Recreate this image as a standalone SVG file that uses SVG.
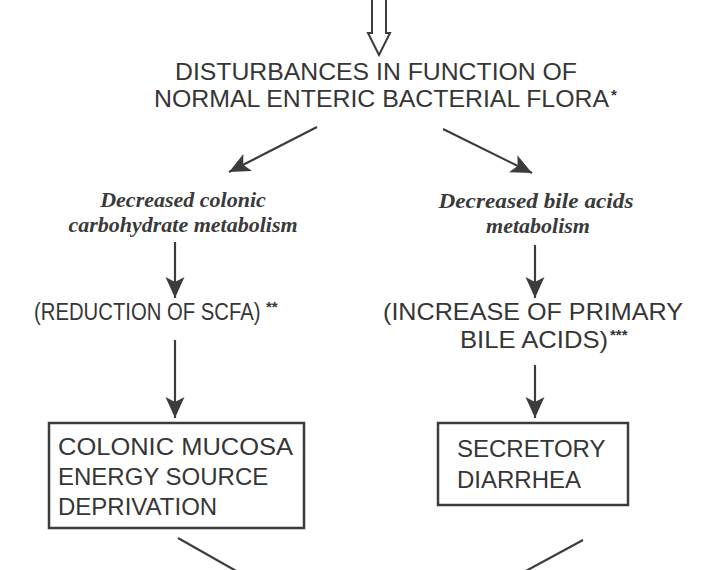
<svg xmlns="http://www.w3.org/2000/svg" width="708" height="570" viewBox="0 0 708 570">
<defs>
<marker id="ah" markerUnits="userSpaceOnUse" markerWidth="22" markerHeight="20" refX="21" refY="10" orient="auto">
<path d="M0,0.5 L21,10 L0,19.5 L5,10 z" fill="#3c3c3c"/>
</marker>
<style>
.cap{font-family:"Liberation Sans",Arial,sans-serif;font-size:24px;fill:#363636}
.it{font-family:"Liberation Serif","Times New Roman",serif;font-style:italic;font-weight:bold;font-size:22px;fill:#3a3a3a}
.sup{font-family:"Liberation Sans",Arial,sans-serif;font-size:15px;font-weight:bold;fill:#363636}
.ln{stroke:#3c3c3c;stroke-width:2.2;fill:none}
.box{fill:none;stroke:#3c3c3c;stroke-width:2.5}
</style>
</defs>
<rect width="708" height="570" fill="#ffffff"/>
<g id="connectors">
<polygon points="372,-3 386,-3 386,33 390,33 379,55 368,33 372,33" fill="#ffffff" stroke="#3c3c3c" stroke-width="2"/>
<line class="ln" x1="317" y1="127" x2="229" y2="172" marker-end="url(#ah)"/>
<line class="ln" x1="443" y1="129" x2="532" y2="173" marker-end="url(#ah)"/>
<line class="ln" x1="175" y1="242" x2="175" y2="298" marker-end="url(#ah)"/>
<line class="ln" x1="175" y1="340" x2="175" y2="418" marker-end="url(#ah)"/>
<line class="ln" x1="535" y1="245" x2="535" y2="298" marker-end="url(#ah)"/>
<line class="ln" x1="535" y1="365" x2="535" y2="418" marker-end="url(#ah)"/>
<line class="ln" x1="178" y1="538" x2="238" y2="572"/>
<line class="ln" x1="583" y1="540" x2="524" y2="572"/>
</g>
<g id="n-disturbances">
<text class="cap" x="175" y="80" textLength="402" lengthAdjust="spacingAndGlyphs">DISTURBANCES IN FUNCTION OF</text>
<text class="cap" x="154" y="107" textLength="455" lengthAdjust="spacingAndGlyphs">NORMAL ENTERIC BACTERIAL FLORA</text>
<text class="sup" x="611" y="100">*</text>
</g>
<g id="n-carbohydrate">
<text class="it" x="183" y="207" text-anchor="middle">Decreased colonic</text>
<text class="it" x="183" y="232" text-anchor="middle">carbohydrate metabolism</text>
</g>
<g id="n-bile">
<text class="it" x="536" y="208" text-anchor="middle" textLength="195" lengthAdjust="spacingAndGlyphs">Decreased bile acids</text>
<text class="it" x="538" y="233" text-anchor="middle">metabolism</text>
</g>
<g id="n-scfa">
<text class="cap" transform="translate(34,320) scale(1,1.15)" x="0" y="0" style="font-size:20.3px">(REDUCTION OF SCFA)</text>
<text class="sup" x="266" y="312">**</text>
</g>
<g id="n-primary">
<text class="cap" x="383" y="320" textLength="300" lengthAdjust="spacingAndGlyphs">(INCREASE OF PRIMARY</text>
<text class="cap" x="460" y="348" textLength="148" lengthAdjust="spacingAndGlyphs">BILE ACIDS)</text>
<text class="sup" x="610" y="340">***</text>
</g>
<g id="n-mucosa">
<rect class="box" x="49" y="423" width="255" height="105"/>
<text class="cap" x="58" y="455" textLength="235" lengthAdjust="spacingAndGlyphs">COLONIC MUCOSA</text>
<text class="cap" x="58" y="485">ENERGY SOURCE</text>
<text class="cap" x="58" y="515">DEPRIVATION</text>
</g>
<g id="n-diarrhea">
<rect class="box" x="438" y="423" width="190" height="82"/>
<text class="cap" x="457" y="457">SECRETORY</text>
<text class="cap" x="457" y="488">DIARRHEA</text>
</g>
</svg>
